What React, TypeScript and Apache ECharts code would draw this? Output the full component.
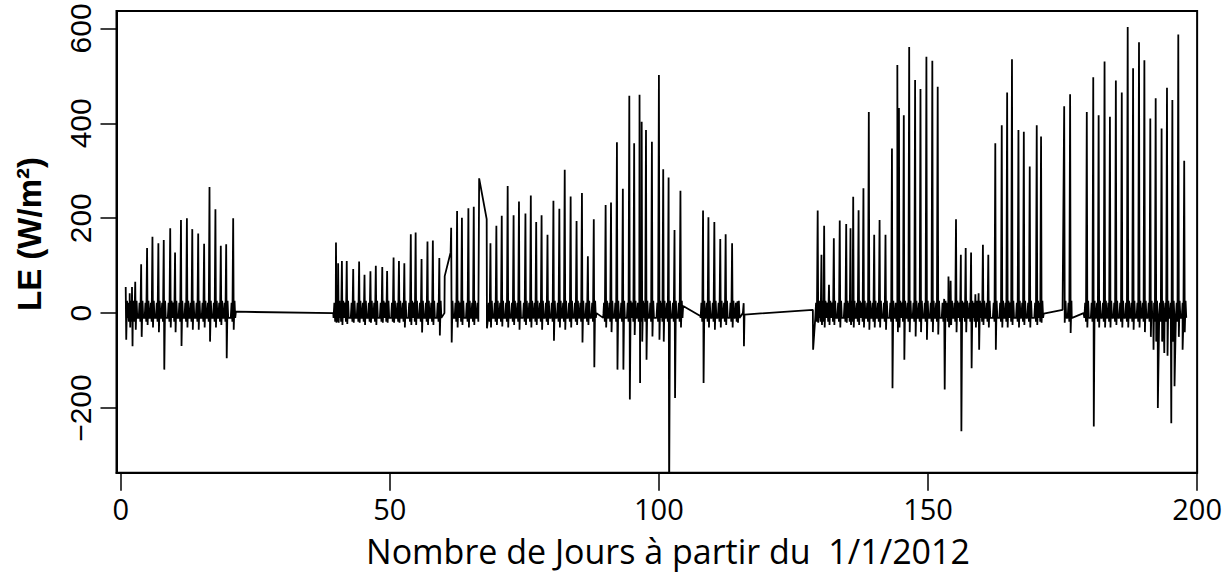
import React, { useEffect, useRef } from "react";
import * as echarts from "echarts";

// Daily spikes: [day of the peak, peak LE (W/m2), lowest LE right after the peak, flag]
// flag 1: the line arrives straight from a data gap (no night points before the peak)
// flag 2: the line leaves straight into a data gap (no points after the peak)
const segA: number[][] = [
  [0.93, 55, -56, 1], [1.67, 42, -30], [2.1, 55, -70], [2.7, 66, -35], [3.8, 103, -50], [4.9, 137, -25],
  [5.9, 161, -30], [7.0, 147, -40], [8.0, 154, -119], [9.2, 179, -30], [10.1, 128, -40], [11.2, 196, -69],
  [12.3, 200, -30], [13.3, 177, -35], [14.4, 168, -35], [15.5, 146, -30], [16.5, 266, -60], [17.6, 219, -30],
  [18.6, 142, -25], [19.6, 145, -95], [20.9, 200, -35],
];
const segB: number[][] = [
  [40.0, 149, -20], [40.4, 105, -20], [41.1, 110, -25], [42.0, 110, -23], [43.2, 93, -20], [44.3, 109, -20],
  [45.3, 81, -25], [46.4, 88, -20], [47.4, 100, -25], [48.6, 97, -20], [49.5, 89, -20], [50.7, 117, -20],
  [51.7, 110, -20], [52.7, 105, -30], [53.9, 166, -25], [54.8, 170, -25], [55.9, 114, -41], [57.0, 151, -25],
  [58.0, 153, -25], [59.2, 116, -47],
];
const segC: number[][] = [
  [61.4, 180, -62, 1], [62.5, 215, -30], [63.4, 201, -25], [64.6, 221, -30], [65.6, 224, -25], [66.6, 284, -20, 2],
  [68.7, 147, -30], [69.8, 184, -25], [70.8, 205, -28], [71.9, 268, -30], [73.0, 206, -25], [74.0, 235, -35],
  [75.2, 210, -25], [76.2, 248, -30], [77.2, 192, -25], [78.2, 206, -35], [79.3, 165, -25], [80.4, 237, -58],
  [81.5, 220, -30], [82.5, 302, -35], [83.6, 246, -30], [84.7, 194, -25], [85.7, 253, -62], [86.8, 120, -25],
  [87.9, 198, -114],
];
const segD: number[][] = [
  [90.1, 228, -30], [91.1, 233, -40], [92.2, 360, -119], [93.3, 262, -119], [94.5, 458, -182], [95.4, 358, -46],
  [96.4, 460, -147], [96.8, 403, -60], [97.6, 386, -98], [98.7, 361, -49], [100.0, 502, -56], [100.8, 303, -60],
  [101.8, 286, -400], [102.9, 175, -179], [104.0, 258, -30],
];
const segE: number[][] = [
  [108.2, 216, -147], [109.2, 202, -30], [110.3, 192, -35], [111.4, 156, -30], [112.4, 166, -25],
  [113.6, 147, -30], [114.6, 25, -20],
];
const segF: number[][] = [
  [129.5, 216, -20], [130.2, 123, -25], [130.7, 184, -30], [131.6, 60, -25], [132.5, 158, -25], [133.6, 195, -30],
  [134.8, 188, -20], [135.6, 179, -25], [136.1, 245, -30], [137.1, 217, -25], [138.0, 263, -30], [139.0, 424, -35],
  [140.0, 165, -30], [141.0, 196, -30], [142.1, 165, -35], [143.3, 347, -158], [144.3, 523, -40], [144.6, 432, -30],
  [145.5, 417, -98], [146.5, 561, -40], [147.6, 491, -49], [148.6, 472, -40], [149.7, 540, -56], [150.8, 532, -40],
  [151.8, 477, -45], [153.0, 30, -161], [153.8, 77, -30], [154.2, 68, -25], [155.2, 198, -40], [156.1, 123, -249],
  [157.0, 137, -40], [158.0, 128, -116], [158.8, 40, -30], [159.4, 42, -77], [160.2, 144, -25], [161.2, 123, -30],
  [162.5, 358, -77], [163.7, 396, -30], [164.7, 465, -30], [165.6, 535, -25], [166.8, 386, -30], [167.8, 382, -25],
  [168.9, 309, -30], [170.2, 396, -25], [171.0, 372, -20],
];
const segG: number[][] = [
  [175.3, 436, -20, 1], [176.4, 461, -42],
  [179.5, 424, -30], [180.7, 497, -239], [181.7, 417, -30], [182.8, 530, -30], [183.8, 414, -30], [184.9, 490, -25],
  [186.0, 465, -30], [187.1, 603, -30], [188.1, 516, -35], [189.2, 571, -30], [190.2, 533, -40], [191.3, 410, -50],
  [192.3, 453, -60], [193.4, 389, -60], [194.4, 475, -90], [195.4, 449, -60], [196.5, 587, -50], [197.6, 321, -40],
];
// Single readings: flat stretches across data gaps and isolated deep dips [day, LE]
const gapPoints: number[][] = [
  [21.4, 3], [39.5, 0], [60.15, 0], [60.2, 78], [61.3, 128], [68.0, 198], [68.05, -32], [88.4, 0], [89.7, 0],
  [104.5, 15], [107.7, -6], [115.6, 0], [115.75, 21], [115.8, -70], [115.9, -3], [128.6, 7], [128.65, -77],
  [171.5, -1], [175.0, 7], [176.7, -7], [178.9, 0],
  [191.9, -77], [192.7, -200], [193.9, -84], [195.2, -232], [195.8, -154], [197.3, -77],
];
// Night-time jitter around zero before and after each daily peak: [offset in days, LE]
const leadNight: number[][] = [[-0.45, -10], [-0.3, 22], [-0.15, -18]];
const lowOffset = 0.1;
const tailNight: number[][] = [[0.25, 26], [0.38, -10]];

const xTicks = [0, 50, 100, 150, 200];
const yTicks = [-200, 0, 200, 400, 600];

function buildLine(): number[][] {
  const pts: number[][] = [];
  [segA, segB, segC, segD, segE, segF, segG].forEach((seg) =>
    seg.forEach(([d, top, low, flag = 0]) => {
      if (!(flag & 1)) leadNight.forEach(([dt, v]) => pts.push([d + dt, v]));
      pts.push([d, top]);
      if (!(flag & 2)) {
        pts.push([d + lowOffset, low]);
        tailNight.forEach(([dt, v]) => pts.push([d + dt, v]));
      }
    })
  );
  gapPoints.forEach((p) => pts.push([p[0], p[1]]));
  pts.sort((a, b) => a[0] - b[0]);
  return pts;
}

export default function App() {
  const ref = useRef<HTMLDivElement>(null);
  useEffect(() => {
    if (!ref.current) return;
    const chart = echarts.init(ref.current, null, { renderer: "svg" });
    chart.setOption({
      animation: false,
      backgroundColor: "#fff",
      grid: {
        left: 116.5,
        right: 27.7,
        top: 11,
        bottom: 100.3,
        show: true,
        borderColor: "#000",
        borderWidth: 2,
        backgroundColor: "transparent",
      },
      xAxis: {
        type: "value",
        min: -0.78,
        max: 200,
        splitLine: { show: false },
        axisLine: { show: true, onZero: false, lineStyle: { color: "#000", width: 2 } },
        axisTick: { show: true, length: 18, customValues: xTicks, lineStyle: { color: "#000", width: 1.5 } },
        axisLabel: {
          customValues: xTicks,
          fontFamily: "Open Sans",
          fontSize: 29,
          lineHeight: 24,
          color: "#000",
          margin: 24,
        },
      },
      yAxis: {
        type: "value",
        min: -336.2,
        max: 636.6,
        splitLine: { show: false },
        axisLine: { show: true, onZero: false, lineStyle: { color: "#000", width: 2 } },
        axisTick: { show: true, length: 16, customValues: yTicks, lineStyle: { color: "#000", width: 1.5 } },
        axisLabel: {
          customValues: yTicks,
          rotate: 90,
          fontFamily: "Liberation Sans",
          fontSize: 30,
          lineHeight: 24,
          color: "#000",
          margin: 24,
          formatter: (v: number) => (v < 0 ? "\u2212" + Math.abs(v) : String(v)),
        },
      },
      graphic: [
        {
          type: "text",
          x: 668,
          y: 551,
          style: {
            text: "Nombre de Jours à partir du  1/1/2012",
            font: '34px "Open Sans"',
            lineHeight: 28,
            fill: "#000",
            textAlign: "center",
            textVerticalAlign: "middle",
          },
        },
        {
          type: "text",
          x: 29,
          y: 234,
          rotation: Math.PI / 2,
          style: {
            text: "LE (W/m²)",
            font: 'bold 33px "Liberation Sans"',
            fill: "#000",
            textAlign: "center",
            textVerticalAlign: "middle",
          },
        },
      ],
      series: [
        {
          type: "line",
          data: buildLine(),
          showSymbol: false,
          symbol: "none",
          clip: true,
          lineStyle: { color: "#000", width: 1.8 },
        },
      ],
    });
    return () => chart.dispose();
  }, []);
  return <div ref={ref} style={{ position: "absolute", left: 0, top: 0, width: 1225, height: 573 }} />;
}
